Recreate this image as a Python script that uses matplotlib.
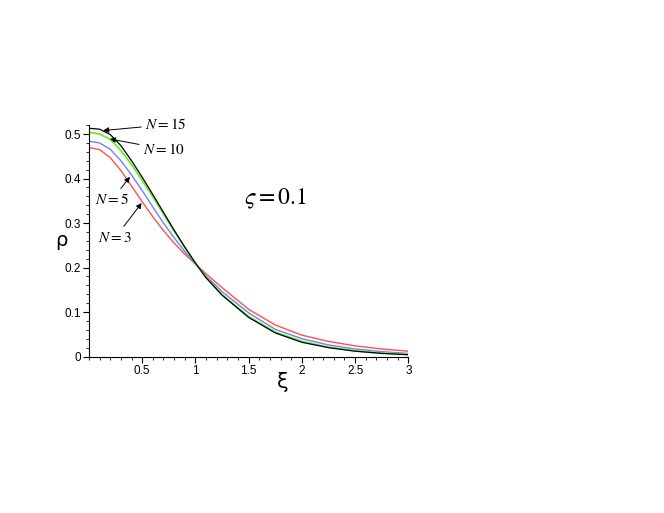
import numpy as np
import matplotlib
matplotlib.use("Agg")
import matplotlib.pyplot as plt
from matplotlib.ticker import MultipleLocator

plt.rcParams['mathtext.fontset'] = 'stix'

# valores
xi = [0, 0.1, 0.2, 0.3, 0.4, 0.5, 0.6, 0.7, 0.8, 0.9, 1.0, 1.1,
      1.25, 1.5, 1.75, 2.0, 2.25, 2.5, 2.75, 3.0]
rho_n15 = [0.513, 0.511, 0.499, 0.474, 0.440, 0.403, 0.364, 0.324, 0.284, 0.246, 0.210, 0.177,
           0.138, 0.088, 0.053, 0.032, 0.020, 0.012, 0.007, 0.004]
rho_n10 = [0.504, 0.500, 0.488, 0.463, 0.431, 0.396, 0.359, 0.320, 0.282, 0.245, 0.210, 0.178,
           0.139, 0.090, 0.055, 0.034, 0.021, 0.013, 0.008, 0.005]
rho_n5 = [0.484, 0.480, 0.466, 0.440, 0.408, 0.373, 0.336, 0.300, 0.267, 0.236, 0.208, 0.181,
          0.146, 0.098, 0.061, 0.040, 0.026, 0.017, 0.011, 0.007]
rho_n3 = [0.470, 0.465, 0.447, 0.418, 0.383, 0.348, 0.314, 0.283, 0.255, 0.230, 0.208, 0.186,
          0.155, 0.106, 0.071, 0.048, 0.034, 0.024, 0.017, 0.012]

rotulos = ['$N=15$', '$N=10$', '$N=5$', '$N=3$']
# ponta da seta (sobre a curva) e posicao do texto
setas = [((0.134, 0.508), (0.53, 0.521), 'left'),
         ((0.197, 0.489), (0.51, 0.466), 'left'),
         ((0.385, 0.404), (0.215, 0.352), 'center'),
         ((0.495, 0.345), (0.245, 0.267), 'center')]

fig = plt.figure(figsize=(6.64, 5.13), dpi=100)
ax = fig.add_axes([0.134, 0.305, 0.481, 0.451])

ax.plot(xi, rho_n3, color='#ff5050', lw=1)
ax.plot(xi, rho_n5, color='#6f7fff', lw=1)
ax.plot(xi, rho_n10, color='#66ee33', lw=1.3)
ax.plot(xi, rho_n15, color='black', lw=0.9)

ax.set_xlim(0, 3)
ax.set_ylim(0, 0.52)
ax.spines['top'].set_visible(False)
ax.spines['right'].set_visible(False)

ax.set_xticks([0.5, 1, 1.5, 2, 2.5, 3])
ax.set_xticklabels(['0.5', '1', '1.5', '2', '2.5', '3'])
ax.set_yticks([0, 0.1, 0.2, 0.3, 0.4, 0.5])
ax.set_yticklabels(['0', '0.1', '0.2', '0.3', '0.4', '0.5'])
ax.xaxis.set_minor_locator(MultipleLocator(0.1))
ax.yaxis.set_minor_locator(MultipleLocator(0.02))
ax.tick_params(which='major', length=4, width=0.8, labelsize=8.5, pad=2)
ax.tick_params(which='minor', length=2, width=0.6)
for lb in ax.get_xticklabels() + ax.get_yticklabels():
    lb.set_fontfamily('Liberation Sans')

ax.set_xlabel('ξ', fontsize=15)
ax.xaxis.set_label_coords(0.608, -0.065)
ax.set_ylabel('ρ', fontsize=14, rotation=0)
ax.yaxis.set_label_coords(-0.085, 0.46)

for txt, (tip, pos, ha) in zip(rotulos, setas):
    ax.annotate(txt, xy=tip, xytext=pos, fontsize=11, ha=ha, va='center',
                arrowprops=dict(arrowstyle='-|>', color='black', lw=0.7,
                                mutation_scale=8, shrinkA=1, shrinkB=0))

ax.text(1.75, 0.354, r'$\varsigma = 0.1$', fontsize=17, ha='center', va='center')

fig.savefig('out.png', dpi=100)
